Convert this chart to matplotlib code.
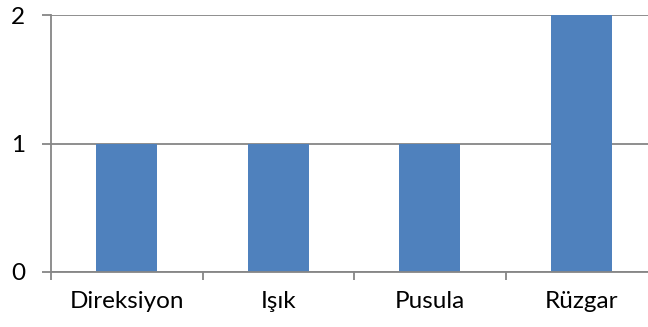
import matplotlib
matplotlib.use("Agg")
import matplotlib.pyplot as plt
import numpy as np

categories = ["Direksiyon", "Işık", "Pusula", "Rüzgar"]
values = [1, 1, 1, 2]
y_ticks = [0, 1, 2]

plt.rcParams['font.family'] = ['Lato', 'DejaVu Sans']

fig = plt.figure(figsize=(6.48, 3.27), dpi=100)
# plot area runs slightly past the right edge of the canvas
ax = fig.add_axes([51/648, 55/327, 606/648, 257/327])

x = np.arange(len(categories))
bar_color = "#4F81BD"
grid_color = "#868686"

ax.set_axisbelow(True)
ax.bar(x, values, width=0.4, color=bar_color, zorder=2)

ax.set_xlim(-0.5, len(categories) - 0.5)
ax.set_ylim(0, 2)

ax.set_yticks(y_ticks)
ax.set_yticklabels([str(v) for v in y_ticks])
ax.yaxis.grid(True, color=grid_color, linewidth=1.3)
ax.tick_params(axis='y', length=6.5, width=1.3, color=grid_color, pad=12, labelsize=17.5)

# boundary ticks between categories, labels at category centres
ax.set_xticks(np.arange(-0.5, len(categories) + 0.5, 1.0))
ax.set_xticklabels([])
ax.set_xticks(x, minor=True)
ax.set_xticklabels(categories, minor=True)
ax.tick_params(axis='x', which='major', length=5.8, width=1.3, color=grid_color)
ax.tick_params(axis='x', which='minor', length=0, pad=14, labelsize=17.5)

for side in ['top', 'right']:
    ax.spines[side].set_visible(False)
for side in ['left', 'bottom']:
    ax.spines[side].set_color(grid_color)
    ax.spines[side].set_linewidth(1.3)

fig.savefig("out.png", dpi=100)
